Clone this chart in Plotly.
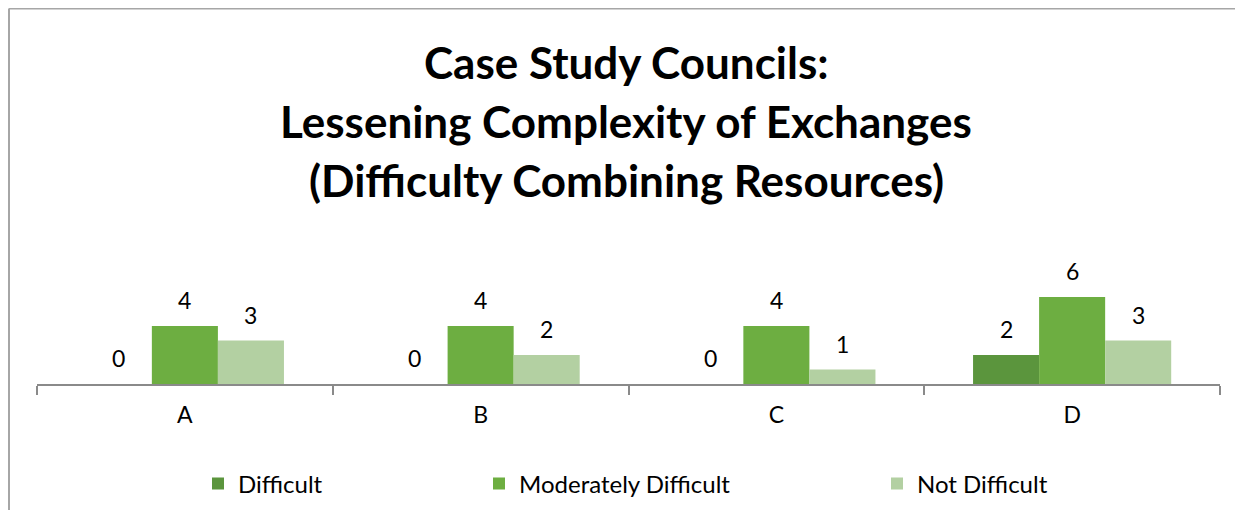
import plotly.graph_objects as go

categories = ["A", "B", "C", "D"]
series_names = ["Difficult", "Moderately Difficult", "Not Difficult"]
difficult = [0, 0, 0, 2]
moderately_difficult = [4, 4, 4, 6]
not_difficult = [3, 2, 1, 3]
title_lines = ["Case Study Councils:", "Lessening Complexity of Exchanges", "(Difficulty Combining Resources)"]

series_values = [difficult, moderately_difficult, not_difficult]
colors = ["#5b953d", "#6dae41", "#b3d0a2"]

FONT = "Lato"
OFF = 8  # page body margin
W, H = 1243, 510
# target page coordinates of plot area
PL, PR, PT, PB = 37, 1220, 268, 384
L = PL - OFF
T = PT - OFF
R = W - (PR - OFF)
B = H - (PB - OFF)
plot_h = PB - PT
plot_w = PR - PL

def py2paper(py):
    return (PB - py) / plot_h

def px2paper(px):
    return (px - PL) / plot_w

fig = go.Figure()
for i, (name, vals) in enumerate(zip(series_names, series_values)):
    fig.add_trace(go.Bar(
        x=categories, y=vals, name=name,
        marker=dict(color=colors[i], line=dict(width=0)),
        legend=["legend", "legend2", "legend3"][i],
    ))

bar_px = 66
annotations = []
for i, vals in enumerate(series_values):
    for c, v in zip(categories, vals):
        annotations.append(dict(
            x=c, y=v, xref="x", yref="y", text=str(v), showarrow=False,
            xshift=(i - 1) * bar_px, yshift=26, yanchor="middle",
            font=dict(family=FONT, size=23, color="#000000"),
        ))

for line, py in zip(title_lines, [62, 121, 180]):
    annotations.append(dict(
        x=px2paper(626), y=py2paper(py), xref="paper", yref="paper",
        text="<b>" + line + "</b>", showarrow=False, xanchor="center", yanchor="middle",
        font=dict(family=FONT, size=44, color="#000000"),
    ))

legend_common = dict(orientation="h", yref="paper", xanchor="left", yanchor="middle",
                     font=dict(family=FONT, size=24, color="#000000"),
                     bgcolor="rgba(0,0,0,0)", itemwidth=30)
leg_y = py2paper(484)

fig.update_layout(
    width=W, height=H,
    margin=dict(l=L, r=R, t=T, b=B),
    paper_bgcolor="white", plot_bgcolor="white",
    barmode="group", bargap=0.33, bargroupgap=0,
    showlegend=True,
    legend=dict(x=px2paper(198), y=leg_y, **legend_common),
    legend2=dict(x=px2paper(479), y=leg_y, **legend_common),
    legend3=dict(x=px2paper(877), y=leg_y, **legend_common),
    xaxis=dict(
        type="category", showline=True, linecolor="#8a8a8a", linewidth=2,
        ticks="outside", tickson="boundaries", ticklen=9, tickcolor="#8a8a8a", tickwidth=2,
        tickfont=dict(family=FONT, size=23, color="#000000"), showgrid=False,
        zeroline=False, ticklabelstandoff=9,
    ),
    yaxis=dict(range=[0, 8], visible=False, showgrid=False, zeroline=False),
    annotations=annotations,
    shapes=[
        dict(type="line", xref="paper", yref="paper",
             x0=px2paper(9), x1=px2paper(9), y0=py2paper(8.5), y1=py2paper(530),
             line=dict(color="#a6a6a6", width=2)),
        dict(type="line", xref="paper", yref="paper",
             x0=px2paper(9), x1=px2paper(1260), y0=py2paper(8.5), y1=py2paper(8.5),
             line=dict(color="#a6a6a6", width=2)),
    ],
)

fig.write_html("out.html")
